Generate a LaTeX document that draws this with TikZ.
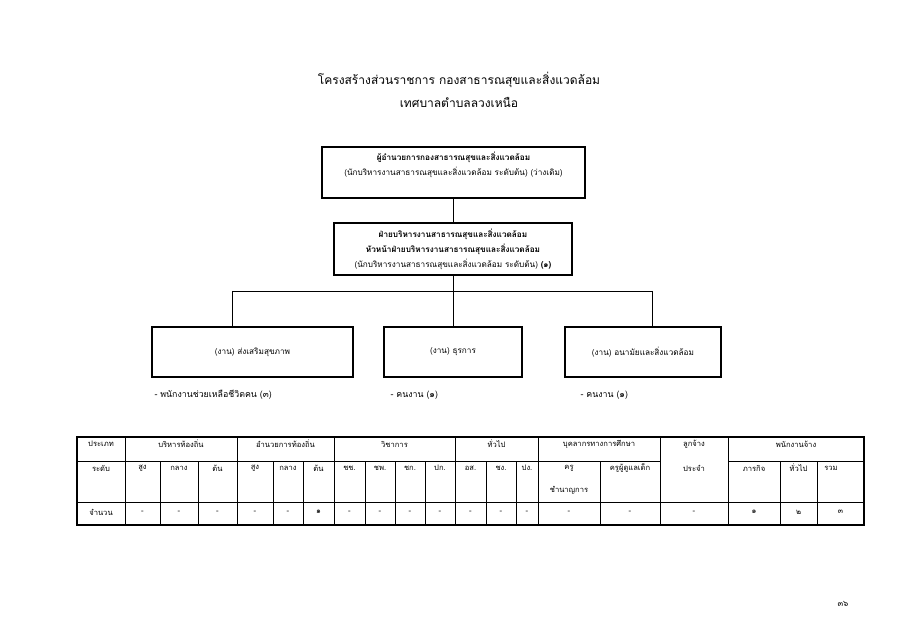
\documentclass[tikz,border=0pt]{standalone}
\usepackage{fontspec}
\setmainfont[Script=Thai]{Loma}
\newcommand\ttlsize{\fontsize{12}{23}\selectfont}
\newcommand\boxsize{\fontsize{8.2}{15}\selectfont}
\newcommand\notesize{\fontsize{8.8}{15}\selectfont}
\newcommand\cellsize{\fontsize{7.6}{9}\selectfont}
\tikzset{
  box/.style={draw, line width=1.1pt, inner sep=0pt, font=\boxsize, align=center},
  link/.style={line width=0.8pt},
  cell/.style={font=\cellsize, inner sep=0pt},
  grp/.style={line width=0.9pt},
  sub/.style={line width=0.5pt},
}
\begin{document}
\begin{tikzpicture}[x=1pt,y=-1pt]
\useasboundingbox (0,0) rectangle (900,636);
% title
\node[font=\ttlsize, align=center] (title) at (459,89.5)
  {โครงสร้างส่วนราชการ กองสาธารณสุขและสิ่งแวดล้อม\\เทศบาลตำบลลวงเหนือ};
% chart
\node[box, minimum width=263pt, minimum height=51pt] (dir) at (453.5,172.5) {};
\node[font=\boxsize, align=center] (dirtxt) at ([yshift=8pt]dir.center)
  {\textbf{ผู้อำนวยการกองสาธารณสุขและสิ่งแวดล้อม}\\(นักบริหารงานสาธารณสุขและสิ่งแวดล้อม ระดับต้น) (ว่างเดิม)};
\node[box, minimum width=238pt, minimum height=52pt] (head) at (453,249)
  {\textbf{ฝ่ายบริหารงานสาธารณสุขและสิ่งแวดล้อม}\\\textbf{หัวหน้าฝ่ายบริหารงานสาธารณสุขและสิ่งแวดล้อม}\\(นักบริหารงานสาธารณสุขและสิ่งแวดล้อม ระดับต้น) \textbf{(๑)}};
\node[box, minimum width=201pt, minimum height=50pt] (prom) at (252.5,352) {(งาน) ส่งเสริมสุขภาพ};
\node[box, minimum width=138pt, minimum height=50pt] (gen) at (453,352) {(งาน) ธุรการ};
\node[box, minimum width=156pt, minimum height=50pt] (env) at (643,352) {(งาน) อนามัยและสิ่งแวดล้อม};
\coordinate (J) at (453,291);
\coordinate (L) at (232,291);
\coordinate (R) at (652,291);
\draw[link] (dir.south) -- (dir.south |- head.north);
\draw[link] (head.south) -- (J);
\draw[link] (L) -- (R);
\draw[link] (L) -- (L |- prom.north);
\draw[link] (J) -- (gen.north);
\draw[link] (R) -- (R |- env.north);
% staff
\node[font=\notesize, anchor=west] (n1) at (151,395) {- พนักงานช่วยเหลือชีวิตคน (๓)};
\node[font=\notesize, anchor=west] (n2) at (387,395) {- คนงาน (๑)};
\node[font=\notesize, anchor=west] (n3) at (577,395) {- คนงาน (๑)};
% table
\draw[line width=1.1pt] (77,437) rectangle (864,525);
\draw[sub] (77,461) -- (660,461);
\draw[sub] (728,461) -- (864,461);
\draw[sub] (77,502) -- (864,502);
\foreach \x in {125,237,334,455,538,660,728}
  \draw[grp] (\x,437) -- (\x,525);
\foreach \x in {160,198,273,303,365,395,425,486,516,600,780,817}
  \draw[sub] (\x,461) -- (\x,525);
\foreach \x/\t [count=\i] in {101/ประเภท,181/บริหารท้องถิ่น,285.5/อำนวยการท้องถิ่น,394.5/วิชาการ,
    496.5/ทั่วไป,599/บุคลากรทางการศึกษา,694/ลูกจ้าง,796/พนักงานจ้าง}
  \node[cell] (h\i) at (\x,444) {\t};
\foreach \x/\t [count=\i] in {101/ระดับ,142.5/สูง,179/กลาง,217.5/ต้น,255/สูง,288/กลาง,318.5/ต้น,
    349.5/ชช.,380/ชพ.,410/ชก.,440/ปก.,470.5/อส.,501/ชง.,527/ปง.,569/ครู,630/ครูผู้ดูแลเด็ก,
    694/ประจำ,754/ภารกิจ,798.5/ทั่วไป,831/รวม}
  \node[cell] (s\i) at (\x,468) {\t};
\node[cell] (s0) at (569,490) {ชำนาญการ};
\foreach \x/\t [count=\i] in {101/จำนวน,142.5/-,179/-,217.5/-,255/-,288/-,318.5/๑,
    349.5/-,380/-,410/-,440/-,470.5/-,501/-,527/-,569/-,630/-,694/-,754/๑,798.5/๒,840.5/๓}
  \node[cell] (v\i) at (\x,512) {\t};
% page
\node[font=\boxsize] (page) at (843,604) {๓๖};
\end{tikzpicture}
\end{document}
